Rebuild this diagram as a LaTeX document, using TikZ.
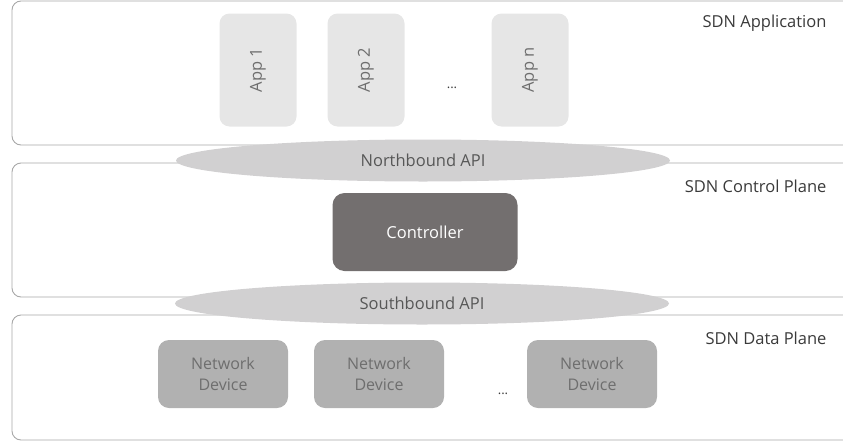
\documentclass[tikz,border=0pt]{standalone}
\usepackage{fontspec}
\setmainfont{Open Sans}
\usetikzlibrary{shapes.geometric}

\definecolor{framegray}{HTML}{A8A8A8}
\definecolor{apigray}{HTML}{D1D0D1}
\definecolor{appgray}{HTML}{E6E6E6}
\definecolor{ctrlgray}{HTML}{736F6F}
\definecolor{devgray}{HTML}{B1B1B1}
\definecolor{textgray}{HTML}{6E6E6E}
\definecolor{labelgray}{HTML}{3A3A3A}

\tikzset{
		layer/.style={draw=framegray,line width=0.9pt,rounded corners=9pt},
		api/.style={ellipse,fill=apigray,text=labelgray!85,font=\fontsize{16.5}{18}\selectfont,
			minimum width=494pt,minimum height=42pt,inner sep=0pt},
		app/.style={rotate=90,fill=appgray,text=textgray,rounded corners=10pt,
			minimum width=113pt,minimum height=77pt,font=\fontsize{16.5}{18}\selectfont},
		ctrl/.style={fill=ctrlgray,text=white,rounded corners=12pt,
			minimum width=185pt,minimum height=78pt,font=\fontsize{16.5}{18}\selectfont},
		device/.style={fill=devgray,text=textgray,rounded corners=11pt,align=center,
			minimum width=130pt,minimum height=68pt,font=\fontsize{16}{21}\selectfont},
		planelabel/.style={anchor=east,text=labelgray,font=\fontsize{16.5}{18}\selectfont},
		dots/.style={text=labelgray,font=\fontsize{13}{14}\selectfont}
	}

\begin{document}
\begin{tikzpicture}[x=1pt,y=-1pt]
				\useasboundingbox (0,0) rectangle (843,442);
				\begin{scope}
					\clip (0,0) rectangle (843,442);
					% the three planes
					\draw[layer] (12,1) rectangle (880,145);
					\draw[layer] (12,163) rectangle (880,297);
					\draw[layer] (12,315) rectangle (880,440);
				\end{scope}

				\node[planelabel] (applabel) at (830,23) {SDN Application};
				\node[planelabel] (ctrllabel) at (830,186) {SDN Control Plane};
				\node[planelabel] (datalabel) at (830,338) {SDN Data Plane};

				% application plane
				\node[app] (app1) at (258,70) {App 1};
				\node[app] (app2) at (366,70) {App 2};
				\node[dots] (appdots) at (452,88) {...};
				\node[app] (appn) at (530,70) {App n};

				% interfaces
				\node[api] (north) at (423,160.5) {Northbound API};
				\node[api] (south) at (422,303.5) {Southbound API};

				% control plane
				\node[ctrl] (controller) at (425,232) {Controller};

				% data plane
				\node[device] (dev1) at (223,374) {Network\\Device};
				\node[device] (dev2) at (379,374) {Network\\Device};
				\node[dots] (devdots) at (503,394) {...};
				\node[device] (devn) at (592,374) {Network\\Device};
			\end{tikzpicture}
\end{document}
